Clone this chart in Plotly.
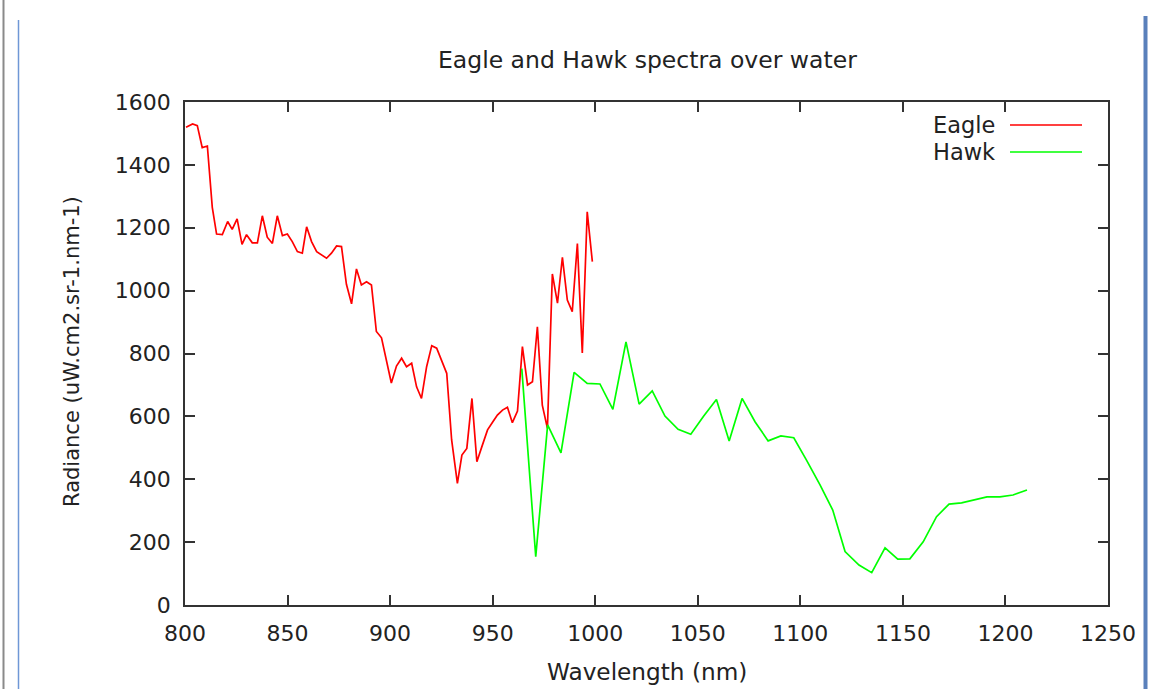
import plotly.graph_objects as go

# ---- data ----
eagle_x = [800.5, 803.7, 806, 808.4, 810.9, 813.3, 815.4, 818.2, 820.8, 823, 825.4, 827.8, 830, 832.8,
           835.3, 837.7, 840.1, 842.6, 845, 847.5, 849.9, 852.3, 854.8, 857.2, 859.3, 861.7, 864.2, 866.6,
           869, 871.4, 873.9, 876.3, 878.7, 881.2, 883.6, 886, 888.5, 890.9, 893.3, 895.8, 898.2, 900.6,
           903.1, 905.6, 908, 910.5, 912.9, 915.3, 917.8, 920.3, 922.7, 925.2, 927.6, 930, 932.8, 935,
           937.4, 939.9, 942.3, 944.7, 947.5, 950.1, 952.3, 954.8, 957.2, 959.6, 962.1, 964.5, 967, 969.4,
           971.8, 974.2, 976.7, 979.1, 981.6, 984, 986.4, 988.8, 991.3, 993.7, 996.1, 998.6]
eagle_y = [1520, 1530, 1525, 1455, 1460, 1265, 1180, 1178, 1220, 1195, 1228, 1147, 1178, 1152, 1152,
           1238, 1170, 1150, 1238, 1175, 1180, 1156, 1124, 1119, 1203, 1156, 1124, 1114, 1103, 1119,
           1142, 1140, 1020, 958, 1069, 1018, 1028, 1018, 870, 850, 780, 706, 760, 785, 758,
           769, 694, 657, 758, 825, 817, 779, 737, 525, 387, 477, 498, 657, 456, 503,
           557, 583, 604, 620, 629, 580, 617, 822, 700, 710, 885, 636, 562, 1053, 960,
           1106, 970, 933, 1150, 802, 1251, 1092]

hawk_x = [964.2, 971, 976.8, 983.3, 989.7, 996.1, 1002.3, 1008.6, 1015, 1021.4, 1027.8, 1034, 1040.4,
          1046.6, 1052.9, 1059.1, 1065.3, 1071.6, 1077.9, 1084.3, 1090.5, 1096.8, 1103, 1109.6, 1115.8,
          1121.8, 1128.6, 1134.8, 1141.3, 1147.5, 1153.4, 1159.9, 1166.4, 1172.5, 1178.6, 1184.7, 1191,
          1197.3, 1203.7, 1210.5]
hawk_y = [752, 154, 573, 484, 740, 705, 703, 622, 837, 639, 681, 601, 559, 543, 601, 654, 522, 657,
          583, 522, 538, 532, 461, 382, 302, 170, 127, 103, 182, 146, 147, 201, 281, 321, 325, 334,
          344, 344, 350, 366]

x_ticks = [800, 850, 900, 950, 1000, 1050, 1100, 1150, 1200, 1250]
y_ticks = [0, 200, 400, 600, 800, 1000, 1200, 1400, 1600]

title_text = "Eagle and Hawk spectra over water"
x_title = "Wavelength (nm)"
y_title = "Radiance (uW.cm2.sr-1.nm-1)"
series_names = ["Eagle", "Hawk"]
series_colors = ["#ff0000", "#00ff00"]

# ---- layout geometry (pixels) ----
W, H = 1151, 689
L, R, T, B = 185, 43, 102, 84
PW, PH = W - L - R, H - T - B


def px_x(p):
    return (p - L) / PW


def px_y(p):
    return (H - B - p) / PH


FONT = "DejaVu Sans"
TXT = "#222222"

fig = go.Figure()
fig.add_trace(go.Scatter(x=eagle_x, y=eagle_y, mode="lines", name=series_names[0],
                         line=dict(color=series_colors[0], width=1.7)))
fig.add_trace(go.Scatter(x=hawk_x, y=hawk_y, mode="lines", name=series_names[1],
                         line=dict(color=series_colors[1], width=1.7)))

axis_common = dict(showgrid=False, zeroline=False, showline=True, linecolor="#333333",
                   linewidth=1.5, mirror="ticks", ticks="inside", ticklen=10, tickwidth=1.5,
                   tickcolor="#333333", tickfont=dict(family=FONT, size=22, color=TXT))

fig.update_xaxes(range=[800, 1250], tickvals=x_ticks, ticktext=[str(v) for v in x_ticks],
                 ticklabelstandoff=8, **axis_common)
fig.update_yaxes(range=[0, 1600], tickvals=y_ticks, ticktext=[str(v) for v in y_ticks],
                 ticklabelstandoff=8, **axis_common)

annotations = [
    dict(text=title_text, x=px_x(647), y=px_y(60), xref="paper", yref="paper",
         showarrow=False, xanchor="center", yanchor="middle",
         font=dict(family=FONT, size=23.5, color=TXT)),
    dict(text=x_title, x=px_x(647), y=px_y(671), xref="paper", yref="paper",
         showarrow=False, xanchor="center", yanchor="middle",
         font=dict(family=FONT, size=23.2, color=TXT)),
    dict(text=y_title, x=px_x(72), y=px_y(352), xref="paper", yref="paper",
         showarrow=False, xanchor="center", yanchor="middle", textangle=-90,
         font=dict(family=FONT, size=21, color=TXT)),
]
shapes = []
for i, (nm, col) in enumerate(zip(series_names, series_colors)):
    yy = 125 + 27 * i
    annotations.append(dict(text=nm, x=px_x(997), y=px_y(yy), xref="paper", yref="paper",
                            showarrow=False, xanchor="right", yanchor="middle",
                            font=dict(family=FONT, size=22.5, color=TXT)))
    shapes.append(dict(type="line", xref="paper", yref="paper", x0=px_x(1010), x1=px_x(1082),
                       y0=px_y(yy), y1=px_y(yy), line=dict(color=col, width=1.5)))

# page decoration lines
shapes.append(dict(type="line", xref="paper", yref="paper", x0=px_x(3.5), x1=px_x(3.5),
                   y0=px_y(0), y1=px_y(689), line=dict(color="#8a8a8a", width=2)))
shapes.append(dict(type="line", xref="paper", yref="paper", x0=px_x(18.5), x1=px_x(18.5),
                   y0=px_y(20), y1=px_y(689), line=dict(color="#6f97d6", width=1.5)))
shapes.append(dict(type="line", xref="paper", yref="paper", x0=px_x(1145.5), x1=px_x(1145.5),
                   y0=px_y(16), y1=px_y(689), line=dict(color="#5a80bb", width=4)))

fig.update_layout(width=W, height=H, margin=dict(l=L, r=R, t=T, b=B, autoexpand=False),
                  paper_bgcolor="white", plot_bgcolor="white", showlegend=False,
                  annotations=annotations, shapes=shapes,
                  font=dict(family=FONT, size=22, color=TXT))

fig.write_html("out.html")
